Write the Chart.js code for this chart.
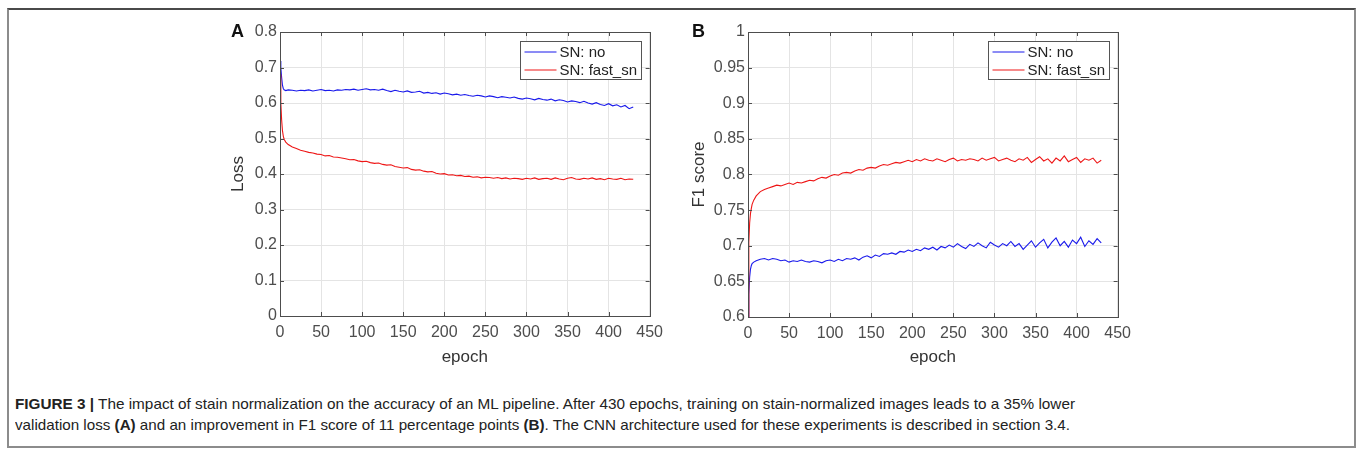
<!DOCTYPE html>
<html>
<head>
<meta charset="utf-8">
<script src="https://cdn.jsdelivr.net/npm/chart.js@4.4.1/dist/chart.umd.min.js"></script>
<style>
  body { margin: 0; background: #fff; width: 1358px; height: 454px; overflow: hidden; position: relative; font-family: "Liberation Sans", Arial, sans-serif; }
  .frame { position: absolute; left: 7px; top: 8px; width: 1349px; height: 440px; box-sizing: border-box; border: 2px solid #8c8c8c; border-top: 2px solid #4a4a4a; }
  .panel { position: absolute; top: 18px; width: 450px; height: 360px; }
  .tag { position: absolute; top: 21px; font-weight: bold; font-size: 18px; color: #111; }
  .cap { position: absolute; left: 15px; white-space: nowrap; font-family: "Liberation Sans Narrow", "Liberation Sans", Arial, sans-serif; font-size: 15px; color: #222; transform-origin: 0 0; }
</style>
</head>
<body>
<div class="frame"></div>
<div class="panel" style="left:220px"><canvas id="chartA" width="450" height="360"></canvas></div>
<div class="panel" style="left:688px"><canvas id="chartB" width="450" height="360"></canvas></div>
<div class="tag" style="left:231px">A</div>
<div class="tag" style="left:692px">B</div>
<div class="cap" id="cap1" style="top:395px"><b>FIGURE 3 |</b> The impact of stain normalization on the accuracy of an ML pipeline. After 430 epochs, training on stain-normalized images leads to a 35% lower</div>
<div class="cap" id="cap2" style="top:416px">validation loss <b>(A)</b> and an improvement in F1 score of 11 percentage points <b>(B)</b>. The CNN architecture used for these experiments is described in section 3.4.</div>

<script>
const epochs = [0, 1, 2, 3, 4, 5, 7, 10, 15, 20,
  25, 30, 35, 40, 45, 50, 55, 60, 65, 70,
  75, 80, 85, 90, 95, 100, 105, 110, 115, 120,
  125, 130, 135, 140, 145, 150, 155, 160, 165, 170,
  175, 180, 185, 190, 195, 200, 205, 210, 215, 220,
  225, 230, 235, 240, 245, 250, 255, 260, 265, 270,
  275, 280, 285, 290, 295, 300, 305, 310, 315, 320,
  325, 330, 335, 340, 345, 350, 355, 360, 365, 370,
  375, 380, 385, 390, 395, 400, 405, 410, 415, 420,
  425, 430];

const seriesNames = ['SN: no', 'SN: fast_sn'];

// panel A: validation loss
const lossNo = [0.718, 0.700, 0.672, 0.650, 0.641, 0.637, 0.635, 0.637, 0.636, 0.634,
  0.636, 0.635, 0.637, 0.634, 0.636, 0.638, 0.635, 0.636, 0.634, 0.637,
  0.636, 0.638, 0.637, 0.639, 0.636, 0.638, 0.640, 0.637, 0.638, 0.636,
  0.639, 0.635, 0.632, 0.636, 0.633, 0.631, 0.634, 0.630, 0.631, 0.633,
  0.628, 0.630, 0.627, 0.629, 0.625, 0.628, 0.626, 0.623, 0.625, 0.622,
  0.624, 0.621, 0.619, 0.622, 0.620, 0.617, 0.620, 0.618, 0.615, 0.618,
  0.616, 0.614, 0.617, 0.613, 0.611, 0.614, 0.612, 0.609, 0.613, 0.610,
  0.608, 0.611, 0.606, 0.609, 0.607, 0.603, 0.606, 0.604, 0.601, 0.605,
  0.600, 0.597, 0.601, 0.596, 0.593, 0.598, 0.592, 0.595, 0.589, 0.593,
  0.584, 0.589];

const lossFast = [0.680, 0.600, 0.552, 0.522, 0.507, 0.498, 0.490, 0.483, 0.476, 0.472,
  0.467, 0.464, 0.461, 0.459, 0.456, 0.455, 0.451, 0.452, 0.448, 0.447,
  0.445, 0.443, 0.440, 0.441, 0.437, 0.435, 0.436, 0.432, 0.430, 0.431,
  0.427, 0.425, 0.426, 0.421, 0.419, 0.417, 0.418, 0.413, 0.411, 0.412,
  0.408, 0.406, 0.407, 0.402, 0.400, 0.401, 0.397, 0.398, 0.395, 0.396,
  0.393, 0.394, 0.391, 0.392, 0.389, 0.391, 0.390, 0.388, 0.390, 0.387,
  0.389, 0.386, 0.388, 0.387, 0.385, 0.388, 0.386, 0.389, 0.385, 0.387,
  0.388, 0.385, 0.389, 0.386, 0.384, 0.388, 0.390, 0.386, 0.385, 0.388,
  0.386, 0.389, 0.385, 0.387, 0.384, 0.388, 0.386, 0.385, 0.388, 0.384,
  0.386, 0.385];

// panel B: F1 score
const f1No = [0.600, 0.632, 0.656, 0.667, 0.672, 0.675, 0.677, 0.679, 0.681, 0.682,
  0.680, 0.682, 0.681, 0.679, 0.680, 0.677, 0.679, 0.678, 0.680, 0.678,
  0.677, 0.679, 0.678, 0.676, 0.679, 0.680, 0.678, 0.681, 0.679, 0.682,
  0.681, 0.683, 0.680, 0.684, 0.686, 0.683, 0.687, 0.685, 0.689, 0.688,
  0.690, 0.688, 0.692, 0.691, 0.694, 0.692, 0.695, 0.693, 0.697, 0.695,
  0.698, 0.694, 0.699, 0.697, 0.701, 0.698, 0.703, 0.699, 0.696, 0.702,
  0.699, 0.704, 0.700, 0.697, 0.705, 0.701, 0.698, 0.703, 0.700, 0.706,
  0.699, 0.703, 0.695, 0.701, 0.707, 0.698, 0.704, 0.709, 0.697, 0.705,
  0.711, 0.700, 0.706, 0.698, 0.708, 0.703, 0.712, 0.699, 0.707, 0.702,
  0.710, 0.704];

const f1Fast = [0.600, 0.705, 0.732, 0.745, 0.752, 0.758, 0.764, 0.770, 0.776, 0.779,
  0.781, 0.783, 0.785, 0.784, 0.786, 0.788, 0.786, 0.789, 0.788, 0.790,
  0.792, 0.791, 0.794, 0.796, 0.795, 0.798, 0.800, 0.799, 0.802, 0.803,
  0.802, 0.805, 0.807, 0.806, 0.809, 0.810, 0.809, 0.812, 0.814, 0.813,
  0.815, 0.817, 0.816, 0.818, 0.820, 0.818, 0.821, 0.819, 0.822, 0.820,
  0.819, 0.822, 0.820, 0.818, 0.821, 0.823, 0.819, 0.821, 0.820, 0.822,
  0.821, 0.819, 0.823, 0.820, 0.822, 0.824, 0.819, 0.821, 0.823, 0.820,
  0.818, 0.822, 0.820, 0.824, 0.817, 0.821, 0.825, 0.819, 0.822, 0.816,
  0.823, 0.819, 0.826, 0.818, 0.821, 0.824, 0.817, 0.822, 0.820, 0.823,
  0.816, 0.820];

const BLUE = 'rgb(25,25,235)';
const RED = 'rgb(238,22,22)';
const AXIS = '#4d4d4d';
const FONT = '"Liberation Sans", Arial, sans-serif';

// matlab style box, inward ticks and legend inside the top right corner
const matlabBox = {
  id: 'matlabBox',
  afterDraw(chart) {
    const { ctx, chartArea: a, scales: { x, y } } = chart;
    ctx.save();
    ctx.strokeStyle = AXIS;
    ctx.lineWidth = 1;
    ctx.strokeRect(Math.round(a.left) + 0.5, Math.round(a.top) + 0.5,
      Math.round(a.right - a.left), Math.round(a.bottom - a.top));
    ctx.beginPath();
    x.ticks.forEach(t => {
      const px = Math.round(x.getPixelForValue(t.value)) + 0.5;
      ctx.moveTo(px, a.bottom); ctx.lineTo(px, a.bottom - 4);
      ctx.moveTo(px, a.top); ctx.lineTo(px, a.top + 4);
    });
    y.ticks.forEach(t => {
      const py = Math.round(y.getPixelForValue(t.value)) + 0.5;
      ctx.moveTo(a.left, py); ctx.lineTo(a.left + 4, py);
      ctx.moveTo(a.right, py); ctx.lineTo(a.right - 4, py);
    });
    ctx.stroke();

    // legend
    ctx.font = '15px ' + FONT;
    const items = chart.data.datasets;
    const tw = Math.max(...items.map(d => ctx.measureText(d.label).width));
    const w = Math.round(4 + 32 + 3 + tw + 4);
    const h = 38;
    const bx = Math.round(a.right - 9 - w) + 0.5;
    const by = Math.round(a.top + 9) + 0.5;
    ctx.fillStyle = '#fff';
    ctx.fillRect(bx, by, w, h);
    ctx.strokeStyle = '#555';
    ctx.strokeRect(bx, by, w, h);
    ctx.textBaseline = 'middle';
    items.forEach((d, i) => {
      const ly = by + 10.5 + i * 18;
      ctx.strokeStyle = d.borderColor;
      ctx.beginPath();
      ctx.moveTo(bx + 4, ly); ctx.lineTo(bx + 36, ly);
      ctx.stroke();
      ctx.fillStyle = '#222';
      ctx.fillText(d.label, bx + 39, ly + 1);
    });
    ctx.restore();
  }
};

function makeChart(id, seriesA, seriesB, yMin, yMax, yStep, yTitle, titlePad, padRight, xHeight) {
  const toPts = vals => epochs.map((e, i) => ({ x: e, y: vals[i] }));
  return new Chart(document.getElementById(id), {
    type: 'line',
    data: {
      datasets: [
        { label: seriesNames[0], data: toPts(seriesA), borderColor: BLUE, borderWidth: 1.1, pointRadius: 0, tension: 0, order: 2 },
        { label: seriesNames[1], data: toPts(seriesB), borderColor: RED, borderWidth: 1.1, pointRadius: 0, tension: 0, order: 1 }
      ]
    },
    options: {
      responsive: false,
      animation: false,
      layout: { padding: { left: 0, right: padRight, top: 14, bottom: 0 } },
      plugins: { legend: { display: false }, tooltip: { enabled: false } },
      scales: {
        x: {
          type: 'linear', min: 0, max: 450,
          afterFit: s => { s.height = xHeight; },
          ticks: { stepSize: 50, padding: 7, color: AXIS, font: { family: FONT, size: 16 } },
          grid: { color: '#e4e4e4', drawTicks: false },
          border: { display: false },
          title: { display: true, text: 'epoch', color: '#333', padding: { top: 4, bottom: 10 }, font: { family: FONT, size: 17 } }
        },
        y: {
          min: yMin, max: yMax,
          afterFit: s => { s.width = 60; },
          ticks: {
            stepSize: yStep, padding: 3, color: AXIS,
            font: { family: FONT, size: 16 },
            callback: v => String(Number(v.toFixed(2)))
          },
          grid: { color: '#e4e4e4', drawTicks: false },
          border: { display: false },
          title: { display: true, text: yTitle, color: '#333', padding: { top: titlePad, bottom: 2 }, font: { family: FONT, size: 17 } }
        }
      }
    },
    plugins: [matlabBox]
  });
}

makeChart('chartA', lossNo, lossFast, 0, 0.8, 0.1, 'Loss', 8, 18, 62);
makeChart('chartB', f1No, f1Fast, 0.6, 1, 0.05, 'F1 score', 1, 17, 61);

// stretch caption lines to the measured width of the printed lines
[['cap1', 1060], ['cap2', 1055]].forEach(([id, target]) => {
  const el = document.getElementById(id);
  const w = el.getBoundingClientRect().width;
  el.style.transform = 'scaleX(' + (target / w) + ')';
});
</script>
</body>
</html>
